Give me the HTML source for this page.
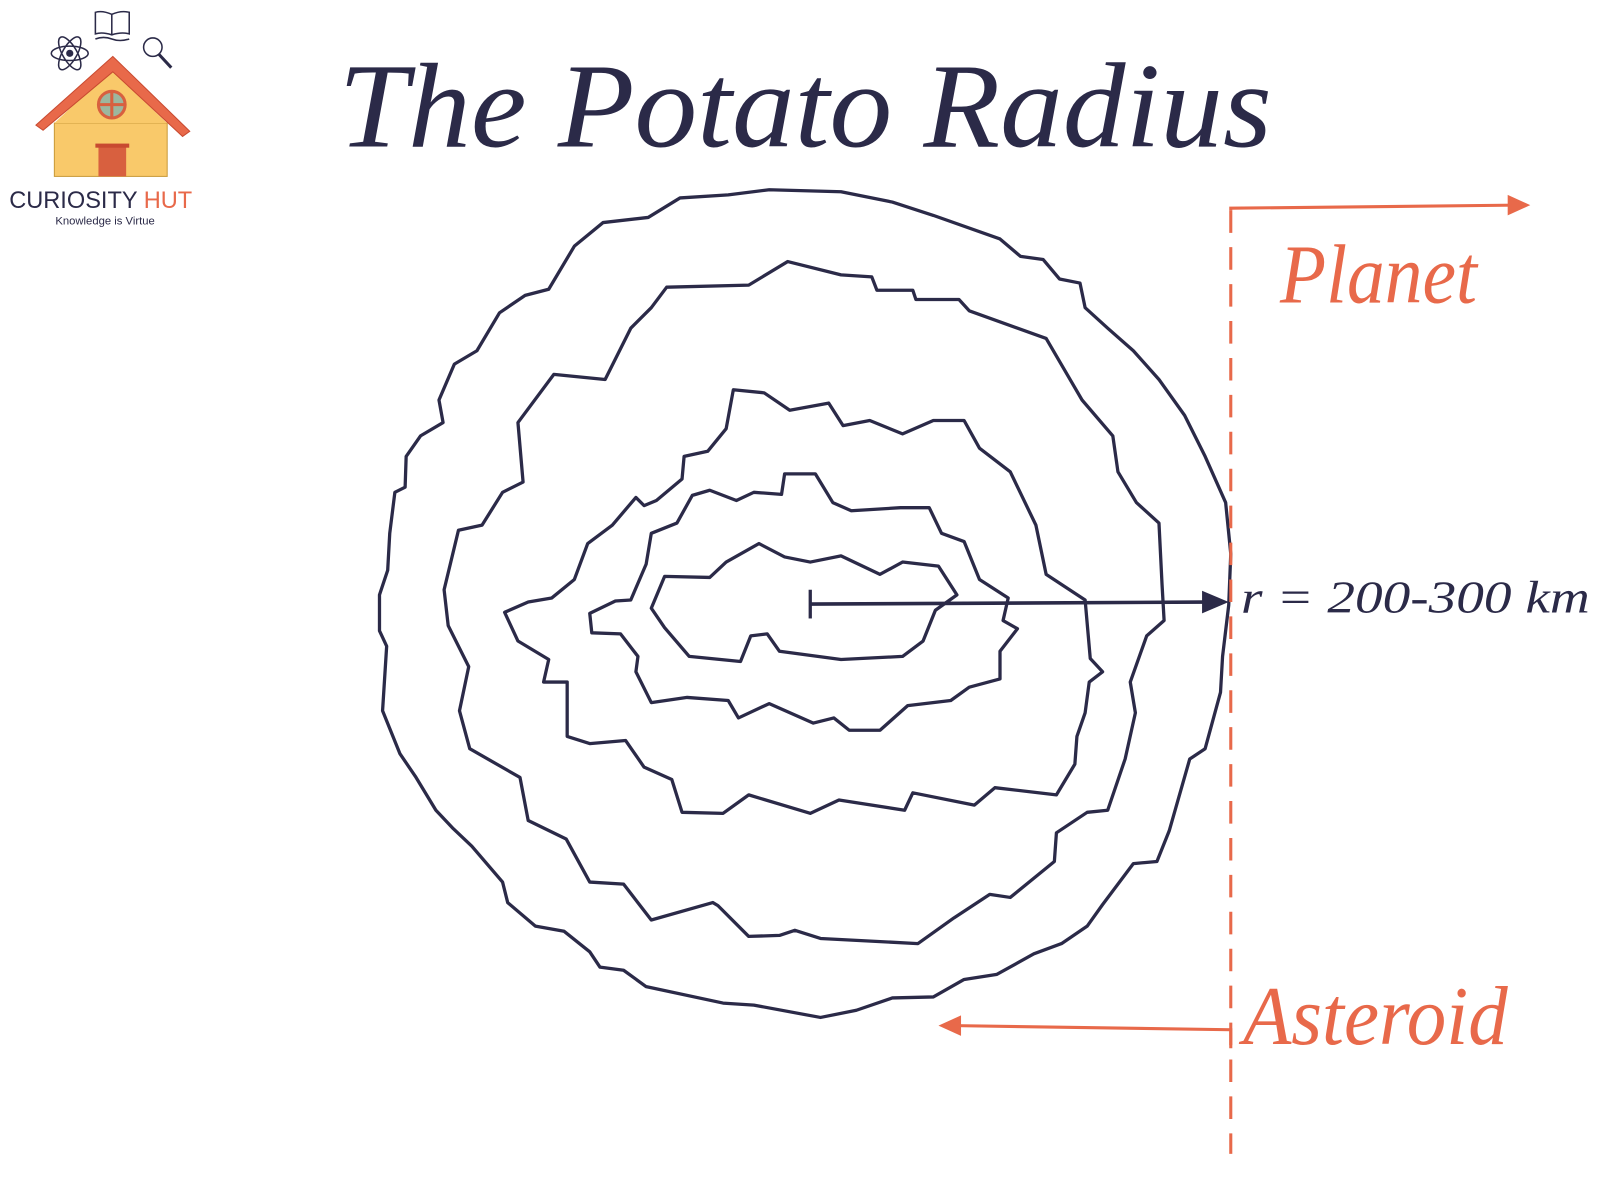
<!DOCTYPE html>
<html><head><meta charset="utf-8"><style>
html,body{margin:0;padding:0;background:#fff;width:1600px;height:1200px;overflow:hidden}
svg{display:block}
</style></head><body>
<svg width="1600" height="1200" viewBox="0 0 1560 1170" xmlns="http://www.w3.org/2000/svg">
<g fill="none" stroke="#2b2a48" stroke-width="3.2" stroke-linejoin="round">
<polygon points="750,185 820,187 870,197 910,210 975,233 995,250 1017,253 1033,272 1053,276 1058,300 1080,320 1105,342 1130,370 1155,405 1175,445 1195,490 1200,540 1198,590 1192,640 1190,675 1175,730 1160,740 1140,810 1128,840 1105,842 1075,882 1060,903 1035,920 1008,930 972,950 940,955 910,972 870,973 835,985 800,992 735,980 705,978 630,962 608,946 585,943 575,928 550,908 522,903 495,880 490,860 460,825 442,808 425,790 405,757 390,735 373,693 377,630 370,615 370,580 378,556 380,520 385,480 395,475 396,445 410,425 432,412 428,390 443,355 465,342 487,305 512,288 535,282 560,240 588,217 632,212 663,193 710,190"/>
<polygon points="650,280 730,278 768,255 820,268 850,270 855,283 890,283 893,292 935,292 945,303 1020,330 1055,390 1085,425 1090,460 1108,490 1130,510 1133,570 1135,605 1118,620 1102,665 1107,695 1097,740 1080,790 1060,792 1030,812 1028,840 985,875 965,872 930,895 895,920 800,915 775,907 760,912 730,913 700,883 695,880 635,897 608,862 575,860 552,818 515,800 507,758 458,730 448,693 457,650 437,610 433,575 447,517 470,512 490,480 510,470 505,412 540,365 590,370 615,320 635,300"/>
<polygon points="715,380 745,383 770,400 808,393 822,415 848,410 880,423 910,410 940,410 955,437 985,460 1010,512 1020,560 1058,585 1063,642 1075,655 1062,665 1058,695 1050,718 1048,745 1030,775 970,768 950,785 890,773 882,790 818,780 790,793 730,775 705,793 665,792 655,760 628,748 610,722 575,725 553,718 553,665 530,665 535,643 505,625 492,597 515,587 538,583 560,565 573,530 597,512 620,485 628,493 640,488 665,467 667,445 690,440 708,418"/>
<polygon points="765,462 795,462 812,490 830,498 878,495 906,495 918,520 940,528 955,565 983,583 978,605 992,613 975,635 975,662 945,670 927,683 885,688 858,712 828,712 813,700 793,705 750,686 720,700 710,683 670,680 635,685 620,655 622,640 605,618 577,617 575,598 600,586 615,585 630,550 635,520 660,510 675,483 692,478 718,488 735,480 762,482"/>
<polygon points="740,530 765,543 790,548 820,542 858,560 880,548 915,552 933,580 912,595 900,625 880,640 820,643 760,635 748,618 732,620 722,645 672,640 648,612 635,593 648,562 692,563 708,548"/>
<line x1="790" y1="575" x2="790" y2="603"/>
<path d="M790 589L1175 587" stroke-width="3.5"/>
</g>
<path d="M1198 587L1172 576L1172 598z" fill="#2b2a48"/>
<g stroke="#e8694a" stroke-width="3" fill="none">
<line x1="1200" y1="205" x2="1200" y2="1125" stroke-dasharray="22,14"/>
<path d="M1200 205L1200 203L1478 200"/>
<path d="M1200 1022L1200 1004L932 1000"/>
</g>
<path d="M1492 200L1470 190L1470 210z" fill="#e8694a"/>
<path d="M915 1000L937 990L937 1010z" fill="#e8694a"/>
<g font-family="Liberation Serif, serif" font-style="italic">
<text x="330" y="143" font-size="118" fill="#2b2a48" textLength="910" lengthAdjust="spacingAndGlyphs">The Potato Radius</text>
<text x="1248" y="295" font-size="82" fill="#e8694a" textLength="192" lengthAdjust="spacingAndGlyphs">Planet</text>
<text x="1212" y="1018" font-size="82" fill="#e8694a" textLength="258" lengthAdjust="spacingAndGlyphs">Asteroid</text>
<text x="1210" y="597" font-size="44" fill="#2b2a48" textLength="340" lengthAdjust="spacingAndGlyphs">r = 200-300 km</text>
</g>
<g>
<rect x="53" y="120" width="110" height="52" fill="#f9c96a" stroke="#c99a3a" stroke-width="1"/>
<polygon points="53,120 108,68 163,120" fill="#f9c96a"/>
<path d="M35 122L110 55L185 128L178 133L110 70L42 127z" fill="#e8694a" stroke="#c84a30" stroke-width="1"/>
<circle cx="109" cy="102" r="13" fill="#9cb79f" stroke="#d8603f" stroke-width="3"/>
<path d="M96 102H122M109 89V115" stroke="#d8603f" stroke-width="3"/>
<rect x="96" y="143" width="27" height="29" fill="#d8603f"/>
<rect x="93" y="140" width="33" height="4" fill="#c84a30"/>
<g stroke="#2b2a48" stroke-width="1.5" fill="none">
<ellipse cx="68" cy="52" rx="18" ry="7" transform="rotate(60 68 52)"/>
<ellipse cx="68" cy="52" rx="18" ry="7" transform="rotate(-60 68 52)"/>
<ellipse cx="68" cy="52" rx="18" ry="7"/>
<path d="M93 12Q100 10 109 14Q118 10 126 12V33Q118 31 109 34Q100 31 93 33z M109 14V34"/>
<path d="M93 38Q101 35 109 38Q117 41 126 38"/>
<circle cx="149" cy="46" r="9"/>
<line x1="155" y1="53" x2="167" y2="66" stroke-width="3"/>
</g>
<circle cx="68" cy="52" r="3.5" fill="#2b2a48"/>
<text x="9" y="203" font-family="Liberation Sans, sans-serif" font-size="23" fill="#2b2a48">CURIOSITY <tspan fill="#e8694a">HUT</tspan></text>
<text x="54" y="219" font-family="Liberation Sans, sans-serif" font-size="11" fill="#2b2a48">Knowledge is Virtue</text>
</g>
</svg>
</body></html>
